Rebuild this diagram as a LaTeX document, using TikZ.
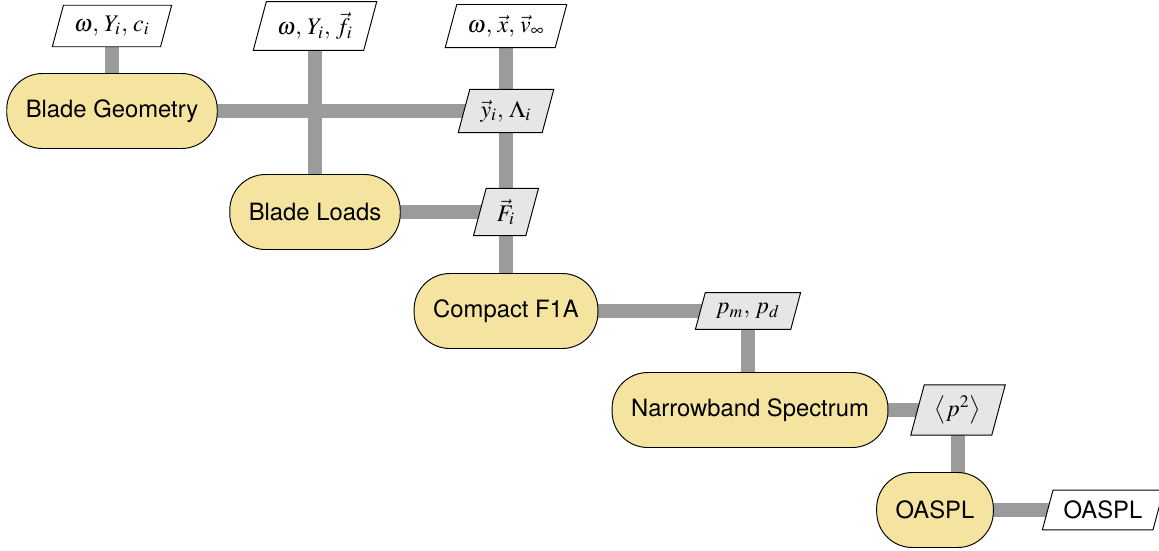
\documentclass[tikz,border=0pt]{standalone}
\usepackage{mathptmx}
\usepackage{fontspec}
\setsansfont{TeX Gyre Heros}
\usetikzlibrary{shapes.geometric,backgrounds}

\definecolor{procyellow}{RGB}{245,227,160}
\definecolor{datagray}{RGB}{230,230,230}
\definecolor{flowgray}{RGB}{155,155,155}

\begin{document}
\begin{tikzpicture}[x=0.42pt,y=-0.42pt]
  \def\XGEOM{112}
  \def\XLOADS{315}
  \def\XFONEA{506}
  \def\XNARROW{750}
  \def\XPMPD{748}
  \def\XOASPL{935}
  \def\XPSQ{958}
  \def\XOUT{1103}

  \def\YTOP{26}
  \def\YGEOM{111}
  \def\YLOADS{212}
  \def\YFONEA{311}
  \def\YNARROW{410}
  \def\YOASPL{510}

  \tikzset{
      process/.style={draw,fill=procyellow,rounded corners=15pt,
        minimum height=31.5pt,inner xsep=8pt,font=\sffamily},
      datum/.style={draw,fill=datagray,trapezium,trapezium left angle=75,
        trapezium right angle=105,inner xsep=4.5pt,inner ysep=4.5pt},
      input/.style={datum,fill=white},
      flow/.style={draw=flowgray,line width=5.8pt},
  }

  \useasboundingbox (0,0) rectangle (1159,550);

  % processes
  \node [process] (geom) at (\XGEOM,\YGEOM) {Blade Geometry};
  \node [process] (loads) at (\XLOADS,\YLOADS) {Blade Loads};
  \node [process] (fonea) at (\XFONEA,\YFONEA) {Compact F1A};
  \node [process] (narrow) at (\XNARROW,\YNARROW) {Narrowband Spectrum};
  \node [process] (oaspl) at (\XOASPL,\YOASPL) {OASPL};

  % inputs
  \node [input] (ingeom) at (\XGEOM,\YTOP) {$\omega,\, Y_i,\, c_i$};
  \node [input] (inloads) at (\XLOADS,\YTOP) {$\omega,\, Y_i,\, \vec{f}_i$};
  \node [input] (infonea) at (\XFONEA,\YTOP) {$\omega,\, \vec{x},\, \vec{v}_\infty$};

  % data
  \node [datum] (dgeom) at (\XFONEA,\YGEOM) {$\vec{y}_i,\, \Lambda_i$};
  \node [datum] (dloads) at (\XFONEA,\YLOADS) {$\vec{F}_i$};
  \node [datum] (dfonea) at (\XPMPD,\YFONEA) {$p_m,\, p_d$};
  \node [datum] (dnarrow) at (\XPSQ,\YNARROW) {$\big\langle p^2 \big\rangle$};
  \node [input,font=\sffamily] (out) at (\XOUT,\YOASPL) {OASPL};

  \begin{scope}[on background layer]
    \draw [flow] (ingeom.center) -- (geom.center);
    \draw [flow] (geom.center) -- (dgeom.center);
    \draw [flow] (inloads.center) -- (loads.center);
    \draw [flow] (infonea.center) -- (fonea.center);
    \draw [flow] (loads.center) -- (dloads.center);
    \draw [flow] (fonea.center) -- (dfonea.center);
    \draw [flow] (dfonea.center) -- (dfonea.center |- narrow.center);
    \draw [flow] (narrow.center) -- (dnarrow.center);
    \draw [flow] (dnarrow.center) -- (dnarrow.center |- oaspl.center);
    \draw [flow] (oaspl.center) -- (out.center);
  \end{scope}
\end{tikzpicture}
\end{document}
